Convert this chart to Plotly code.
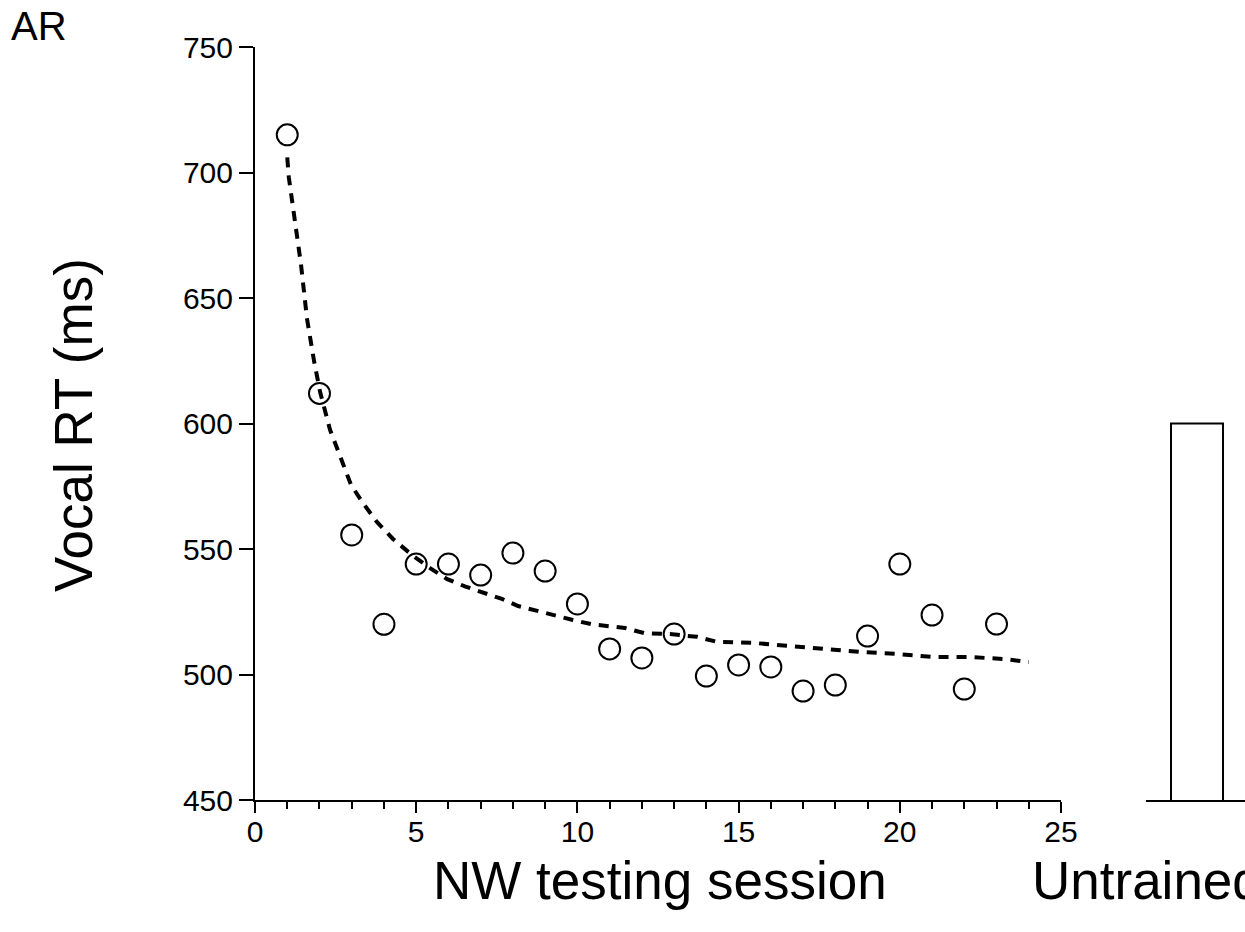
import plotly.graph_objects as go

# Mean vocal RT per nonword testing session
sessions = list(range(1, 24))
rt_ms = [715, 612, 555.6, 520, 544, 544, 539.6, 548.4, 541.2, 528.1, 510.2, 506.6,
         516.1, 499.4, 503.8, 503, 493.4, 495.8, 515.3, 544, 523.7, 494.2, 520.1]

# Fitted practice curve
fit_x = [1.0, 1.05, 1.43, 1.61, 1.83, 2.02, 2.33, 2.76, 2.98, 3.35, 3.78, 4.28, 4.87,
         5.43, 5.96, 6.51, 7.07, 7.66, 8.16, 8.75, 9.31, 9.86, 10.45, 10.95, 11.48,
         12.1, 12.87, 13.71, 14.33, 15.45, 16.53, 17.62, 18.77, 19.91, 21.03, 22.12,
         23.2, 24.0]
fit_y = [706, 698, 663, 642, 625, 612.5, 597.4, 582.7, 575.5, 568.3, 560.8, 554,
         547.6, 542.4, 538, 535.1, 532.5, 530.1, 527.3, 525.3, 523.7, 521.7, 520,
         519.3, 518.5, 516.4, 516.1, 515, 513, 512.6, 511.4, 510.2, 509, 508.2, 507,
         507, 506.2, 505]

# Untrained items
untrained_cat = ["Untrained"]
untrained_rt = [600]

y_ticks = [450, 500, 550, 600, 650, 700, 750]
x_ticks = [0, 5, 10, 15, 20, 25]

W, H = 1245, 932
FONT = "Liberation Sans, Arial, Helvetica, sans-serif"

def fx(px):
    return px / W

def fy(py):
    return 1 - py / H

fig = go.Figure()

fig.add_trace(go.Scatter(
    x=fit_x, y=fit_y, mode="lines",
    line=dict(color="black", width=4, dash="10px,8px"),
    xaxis="x", yaxis="y", hoverinfo="skip"))

fig.add_trace(go.Scatter(
    x=sessions, y=rt_ms, mode="markers",
    marker=dict(symbol="circle-open", size=21, color="black", line=dict(width=2)),
    xaxis="x", yaxis="y"))

fig.add_trace(go.Bar(
    x=untrained_cat, y=untrained_rt, width=1.0,
    marker=dict(color="white", line=dict(color="black", width=2)),
    xaxis="x2", yaxis="y2"))

ydom = [fy(800), fy(47)]

fig.update_layout(
    width=W, height=H,
    margin=dict(l=0, r=0, t=0, b=0),
    paper_bgcolor="white", plot_bgcolor="white",
    showlegend=False,
    font=dict(family=FONT, color="black", size=30),
    xaxis=dict(
        domain=[fx(255), fx(1061)], range=[0, 25],
        tickvals=x_ticks, ticks="outside", ticklen=11, tickwidth=2, tickcolor="black",
        showline=True, linewidth=2, linecolor="black", showgrid=False, zeroline=False,
        tickfont=dict(size=30, family=FONT), anchor="y", automargin=False,
        ticklabelstandoff=-7,
        minor=dict(dtick=1, tick0=0, ticks="outside", ticklen=7, tickwidth=2,
                   tickcolor="black", showgrid=False),
    ),
    yaxis=dict(
        domain=ydom, range=[450, 750],
        tickvals=y_ticks, ticks="outside", ticklen=14, tickwidth=2, tickcolor="black",
        showline=True, linewidth=2, linecolor="black", showgrid=False, zeroline=False,
        tickfont=dict(size=30, family=FONT), anchor="x", automargin=False,
    ),
    xaxis2=dict(
        domain=[fx(1146), 1.0], range=[-0.981, 0.923], type="category",
        showline=True, linewidth=2, linecolor="black", ticks="", showticklabels=False,
        showgrid=False, zeroline=False, anchor="y2", automargin=False,
    ),
    yaxis2=dict(
        domain=ydom, range=[450, 750], visible=False, anchor="x2",
    ),
    annotations=[
        dict(text="AR", x=fx(9), y=fy(26), xref="paper", yref="paper",
             xanchor="left", yanchor="middle", showarrow=False,
             font=dict(size=40, family=FONT)),
        dict(text="Vocal RT (ms)", x=fx(74), y=fy(425), xref="paper", yref="paper",
             xanchor="center", yanchor="middle", textangle=-90, showarrow=False,
             font=dict(size=53, family=FONT)),
        dict(text="NW testing session", x=fx(660), y=fy(880), xref="paper", yref="paper",
             xanchor="center", yanchor="middle", showarrow=False,
             font=dict(size=53, family=FONT)),
        dict(text="Untrained", x=fx(1030), y=fy(880), xref="paper", yref="paper",
             xanchor="left", yanchor="middle", showarrow=False,
             font=dict(size=53, family=FONT)),
    ],
)

fig.write_html("out.html")
